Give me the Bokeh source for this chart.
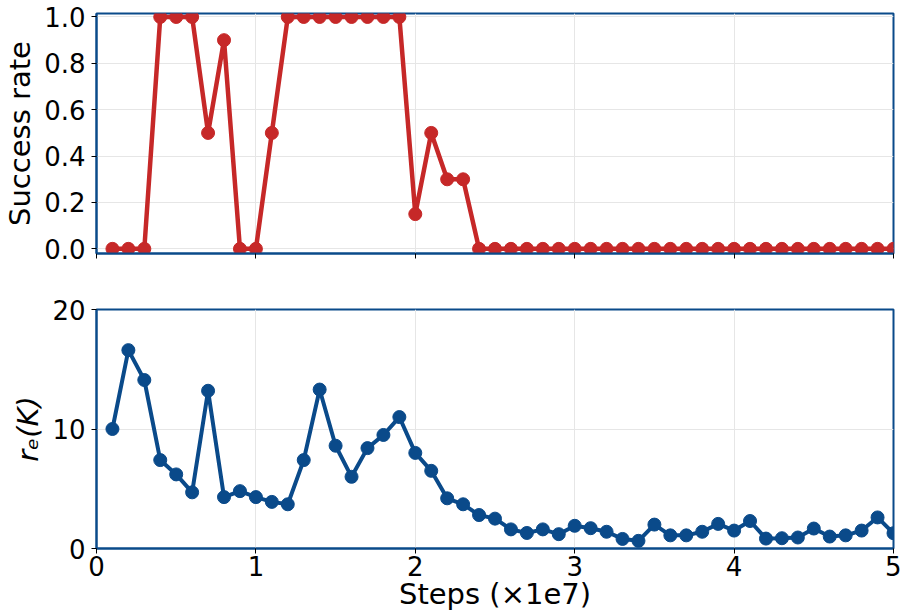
from bokeh.plotting import figure
from bokeh.layouts import column
from bokeh.models import Range1d, FixedTicker
from bokeh.embed import file_html
from bokeh.resources import INLINE

steps = [0.1, 0.2, 0.3, 0.4, 0.5, 0.6, 0.7, 0.8, 0.9, 1.0,
         1.1, 1.2, 1.3, 1.4, 1.5, 1.6, 1.7, 1.8, 1.9, 2.0,
         2.1, 2.2, 2.3, 2.4, 2.5, 2.6, 2.7, 2.8, 2.9, 3.0,
         3.1, 3.2, 3.3, 3.4, 3.5, 3.6, 3.7, 3.8, 3.9, 4.0,
         4.1, 4.2, 4.3, 4.4, 4.5, 4.6, 4.7, 4.8, 4.9, 5.0]

success_rate = [0.0, 0.0, 0.0, 1.0, 1.0, 1.0, 0.5, 0.9, 0.0, 0.0,
                0.5, 1.0, 1.0, 1.0, 1.0, 1.0, 1.0, 1.0, 1.0, 0.15,
                0.5, 0.3, 0.3, 0.0, 0.0, 0.0, 0.0, 0.0, 0.0, 0.0,
                0.0, 0.0, 0.0, 0.0, 0.0, 0.0, 0.0, 0.0, 0.0, 0.0,
                0.0, 0.0, 0.0, 0.0, 0.0, 0.0, 0.0, 0.0, 0.0, 0.0]

r_e = [10.0, 16.6, 14.1, 7.4, 6.2, 4.7, 13.2, 4.3, 4.8, 4.3,
       3.9, 3.7, 7.4, 13.3, 8.6, 6.0, 8.4, 9.5, 11.0, 8.0,
       6.5, 4.2, 3.7, 2.8, 2.5, 1.6, 1.3, 1.6, 1.2, 1.9,
       1.7, 1.4, 0.8, 0.64, 2.0, 1.1, 1.1, 1.4, 2.06, 1.5,
       2.3, 0.83, 0.86, 0.92, 1.67, 1.0, 1.1, 1.5, 2.6, 1.28]

x_ticks = [0, 1, 2, 3, 4, 5]
top_ticks = [0.0, 0.2, 0.4, 0.6, 0.8, 1.0]
top_tick_labels = ["0.0", "0.2", "0.4", "0.6", "0.8", "1.0"]
bottom_ticks = [0, 10, 20]

RED = "#c62828"
BLUE = "#0a4a8a"
FONT = "DejaVu Sans"


def style(p, yticks):
    p.outline_line_color = BLUE
    p.outline_line_width = 2
    p.outline_line_alpha = 1.0
    p.xaxis.ticker = FixedTicker(ticks=x_ticks)
    p.yaxis.ticker = FixedTicker(ticks=yticks)
    for ax in (p.xaxis[0], p.yaxis[0]):
        ax.axis_line_color = BLUE
        ax.axis_line_width = 2
        ax.major_tick_line_color = "black"
        ax.major_tick_line_width = 1
        ax.major_tick_out = 5
        ax.major_tick_in = 0
        ax.minor_tick_out = 0
        ax.minor_tick_in = 0
        ax.major_label_text_font = FONT
        ax.major_label_text_font_size = "26px"
        ax.major_label_text_color = "black"
        ax.major_label_standoff = 6
        ax.axis_label_text_font = FONT
        ax.axis_label_text_font_size = "29px"
        ax.axis_label_text_font_style = "normal"
        ax.axis_label_text_color = "black"
        ax.axis_label_standoff = 4
    p.grid.grid_line_color = "#e6e6e6"
    p.grid.grid_line_width = 1
    p.background_fill_color = "white"
    p.border_fill_color = "white"


p1 = figure(width=901, height=280, output_backend="svg", toolbar_location=None,
            x_range=Range1d(0, 5), y_range=Range1d(-0.02, 1.015),
            min_border_left=95, min_border_right=8, min_border_top=13,
            min_border_bottom=27)
style(p1, top_ticks)
p1.xaxis.major_label_overrides = {t: "" for t in x_ticks}
p1.xaxis.major_label_standoff = 0
p1.yaxis.axis_label = "Success rate"
p1.yaxis.major_label_overrides = dict(zip(top_ticks, top_tick_labels))
p1.line(steps, success_rate, line_color=RED, line_width=4.5)
p1.scatter(steps, success_rate, size=13, fill_color=RED, line_color=RED)

p2 = figure(width=901, height=335, output_backend="svg", toolbar_location=None,
            x_range=Range1d(0, 5), y_range=Range1d(0, 20),
            min_border_left=95, min_border_right=8, min_border_top=29,
            min_border_bottom=67)
style(p2, bottom_ticks)
p2.yaxis.axis_label = "r\u2091(K)"
p2.yaxis.axis_label_text_font_style = "italic"
p2.xaxis.axis_label = "Steps (\u00d71e7)"
p2.xaxis.axis_label_standoff = -2
p2.xaxis.major_label_standoff = 2
p2.line(steps, r_e, line_color=BLUE, line_width=4)
p2.scatter(steps, r_e, size=13, fill_color=BLUE, line_color=BLUE)

layout = column(p1, p2, spacing=0)
open("out.html", "w").write(file_html(layout, INLINE))
